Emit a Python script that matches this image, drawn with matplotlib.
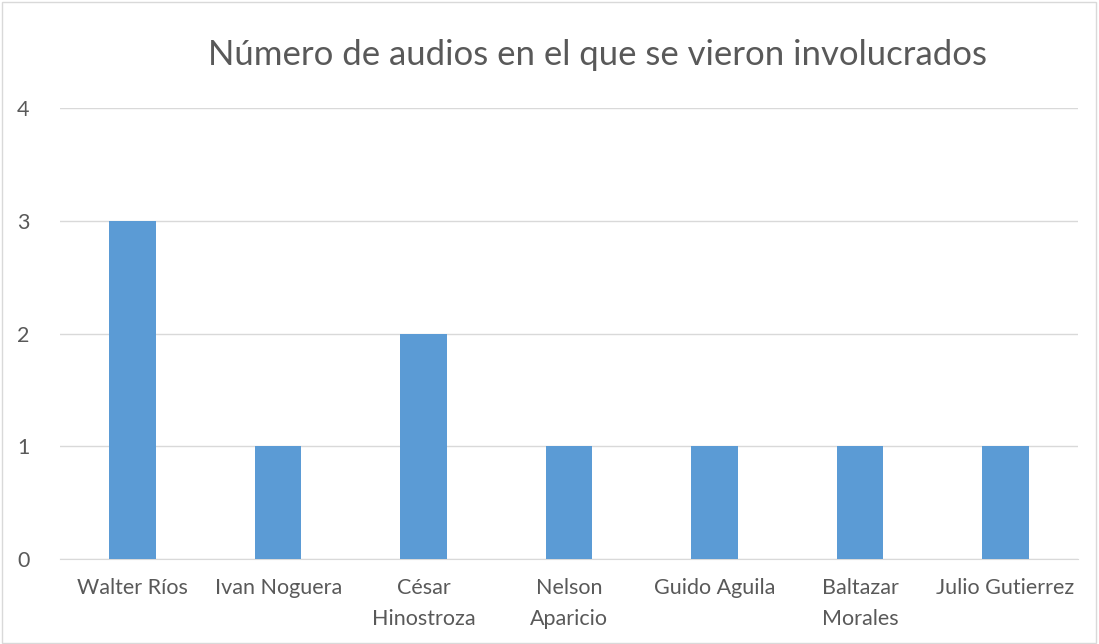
import matplotlib.pyplot as plt
import matplotlib.patches as patches

plt.rcParams['font.family'] = ['Lato', 'DejaVu Sans']

nombres = ['Walter Ríos', 'Ivan Noguera', 'César\nHinostroza', 'Nelson\nAparicio',
           'Guido Aguila', 'Baltazar\nMorales', 'Julio Gutierrez']
audios = [3, 1, 2, 1, 1, 1, 1]

fig = plt.figure(figsize=(10.99, 6.44), dpi=100)
ax = fig.add_axes([0.0546, 0.132, 0.9264, 0.7])

x = range(len(nombres))
ax.bar(x, audios, width=0.32, color='#5B9BD5', zorder=3)

ax.set_xlim(-0.5, len(nombres) - 0.5)
ax.set_ylim(0, 4)
ax.set_yticks([0, 1, 2, 3, 4])
ax.set_xticks(list(x))
ax.set_xticklabels(nombres, fontsize=15.5, color='#595959', linespacing=1.65, va='top')
ax.tick_params(axis='y', labelsize=15.5, labelcolor='#595959', length=0, pad=22)
ax.tick_params(axis='x', length=0, pad=14)
ax.grid(axis='y', color='#D9D9D9', linewidth=1, zorder=0)
for s in ['top', 'right', 'left']:
    ax.spines[s].set_visible(False)
ax.spines['bottom'].set_color('#D9D9D9')

fig.text(0.544, 0.915, 'Número de audios en el que se vieron involucrados',
         ha='center', va='center', fontsize=25, color='#595959')

fig.patches.append(patches.Rectangle((0.0015, 0.002), 0.996, 0.995, transform=fig.transFigure,
                                     fill=False, edgecolor='#D9D9D9', linewidth=1))

plt.savefig('out.png', dpi=100)
